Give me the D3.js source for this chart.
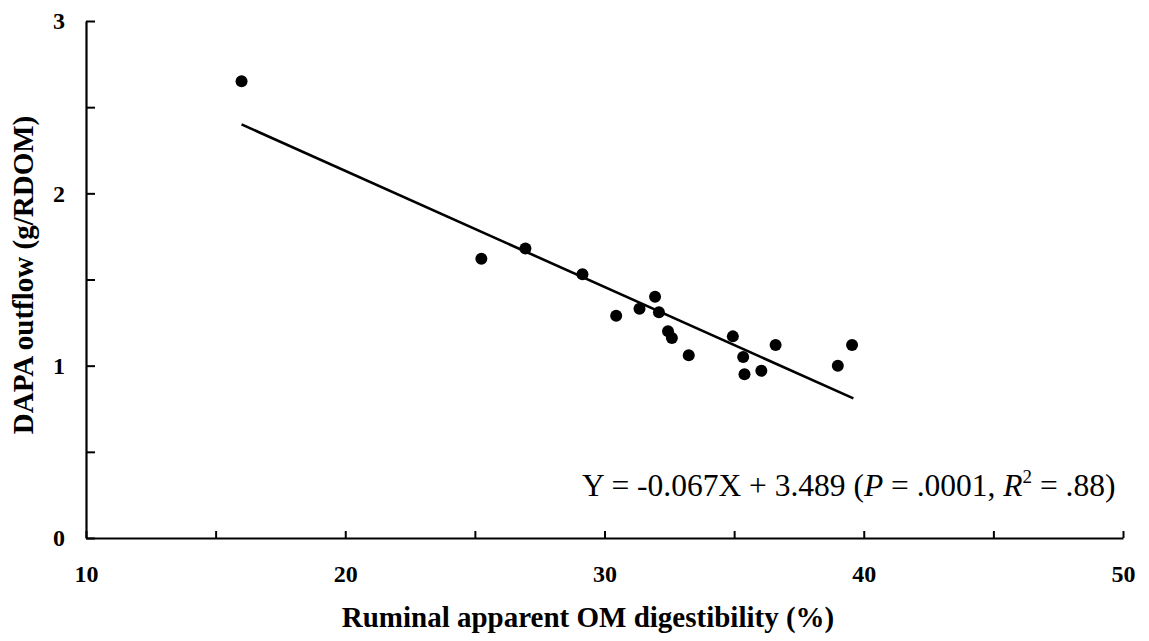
<!DOCTYPE html>
<html><head><meta charset="utf-8">
<script src="https://cdn.jsdelivr.net/npm/d3@7"></script>
<style>html,body{margin:0;padding:0;background:#fff;}</style>
</head><body>
<svg id="chart" width="1149" height="641"></svg>
<script>
// Data
const digestibility = [16.0, 25.25, 26.95, 29.15, 30.45, 31.35, 31.95, 32.1, 32.45, 32.6, 33.25, 34.95, 35.35, 35.4, 36.05, 36.6, 39.0, 39.55];
const dapaOutflow   = [2.65, 1.62, 1.68, 1.53, 1.29, 1.33, 1.40, 1.31, 1.20, 1.16, 1.06, 1.17, 1.05, 0.95, 0.97, 1.12, 1.00, 1.12];
const fitX = [16.0, 39.6];
const fitY = [2.40, 0.81];
const xTicks = [10, 15, 20, 25, 30, 35, 40, 45, 50];
const xTickLabels = ["10", "", "20", "", "30", "", "40", "", "50"];
const yTicks = [0, 0.5, 1, 1.5, 2, 2.5, 3];
const yTickLabels = ["0", "", "1", "", "2", "", "3"];
const xTitle = "Ruminal apparent OM digestibility (%)";
const yTitle = "DAPA outflow (g/RDOM)";

const svg = d3.select("#chart");
const x = d3.scaleLinear().domain([10, 50]).range([86, 1123]);
const y = d3.scaleLinear().domain([0, 3]).range([538, 21]);
const serif = "'Liberation Serif', 'Times New Roman', serif";

// axes
const xAxis = d3.axisBottom(x).tickValues(xTicks).tickSizeInner(-7).tickSizeOuter(0)
  .tickFormat((d, i) => xTickLabels[i]).tickPadding(27);
const gx = svg.append("g").attr("transform", `translate(0,${y(0)})`).call(xAxis);
const yAxis = d3.axisLeft(y).tickValues(yTicks).tickSizeInner(-9).tickSizeOuter(0)
  .tickFormat((d, i) => yTickLabels[i]).tickPadding(21);
const gy = svg.append("g").attr("transform", `translate(${x(10)},0)`).call(yAxis);
[gx, gy].forEach(g => {
  g.select(".domain").attr("stroke", "#000").attr("stroke-width", 2.2);
  g.selectAll(".tick line").attr("stroke", "#000").attr("stroke-width", 2);
  g.selectAll(".tick text").attr("fill", "#000").attr("font-family", serif)
    .attr("font-weight", "bold").attr("font-size", 24);
});

// regression line
svg.append("line")
  .attr("x1", x(fitX[0])).attr("y1", y(fitY[0]))
  .attr("x2", x(fitX[1])).attr("y2", y(fitY[1]))
  .attr("stroke", "#000").attr("stroke-width", 2.6);

// points
svg.append("g").selectAll("circle").data(digestibility).join("circle")
  .attr("cx", d => x(d)).attr("cy", (d, i) => y(dapaOutflow[i])).attr("r", 6).attr("fill", "#000");

// titles
svg.append("text").attr("x", 588).attr("y", 627).attr("text-anchor", "middle")
  .attr("font-family", serif).attr("font-weight", "bold").attr("font-size", 29).text(xTitle);
svg.append("text").attr("transform", "translate(33,275) rotate(-90)").attr("text-anchor", "middle")
  .attr("font-family", serif).attr("font-weight", "bold").attr("font-size", 29).text(yTitle);

// equation
const eq = svg.append("text").attr("x", 582).attr("y", 496)
  .attr("font-family", serif).attr("font-size", 31.5).attr("fill", "#000");
eq.append("tspan").text("Y = -0.067X + 3.489 (");
eq.append("tspan").attr("font-style", "italic").text("P");
eq.append("tspan").text(" = .0001, ");
eq.append("tspan").attr("font-style", "italic").text("R");
eq.append("tspan").attr("font-size", 19).attr("dy", -13).text("2");
eq.append("tspan").attr("dy", 13).text(" = .88)");
</script>
</body></html>
